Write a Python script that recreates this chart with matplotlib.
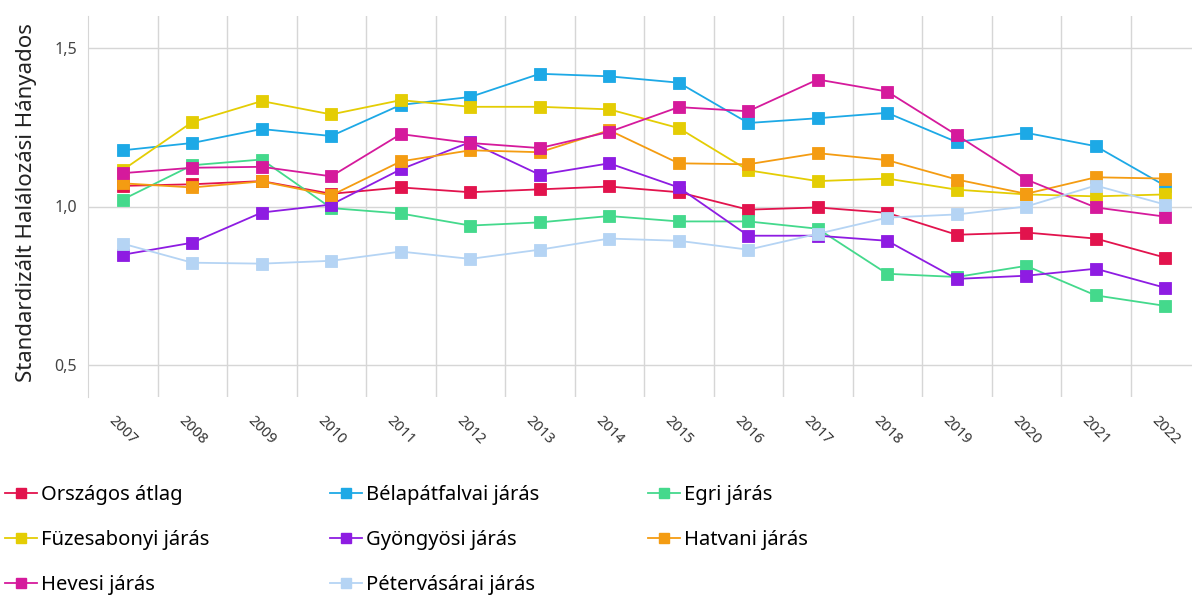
import matplotlib.pyplot as plt
from matplotlib.lines import Line2D
from matplotlib.ticker import FixedLocator, FuncFormatter

plt.rcParams['font.family'] = ['Noto Sans', 'DejaVu Sans']

years = [str(y) for y in range(2007, 2023)]

orszagos = [1.065, 1.07, 1.08, 1.04, 1.06, 1.045, 1.054, 1.063, 1.045, 0.99, 0.997, 0.98,
            0.911, 0.918, 0.899, 0.839]
belapatfalvai = [1.177, 1.20, 1.244, 1.222, 1.32, 1.345, 1.418, 1.41, 1.39, 1.263, 1.278,
                 1.295, 1.203, 1.232, 1.19, 1.065]
egri = [1.022, 1.13, 1.148, 0.995, 0.978, 0.94, 0.95, 0.97, 0.953, 0.953, 0.93, 0.788,
        0.778, 0.813, 0.72, 0.687]
fuzesabonyi = [1.115, 1.266, 1.332, 1.29, 1.335, 1.314, 1.314, 1.306, 1.247, 1.114, 1.08,
               1.088, 1.053, 1.038, 1.032, 1.038]
gyongyosi = [0.848, 0.886, 0.981, 1.006, 1.117, 1.203, 1.10, 1.136, 1.06, 0.908, 0.908,
             0.892, 0.772, 0.782, 0.804, 0.744]
hatvani = [1.073, 1.06, 1.079, 1.035, 1.142, 1.177, 1.171, 1.24, 1.136, 1.133, 1.168,
           1.146, 1.085, 1.04, 1.092, 1.088]
hevesi = [1.105, 1.122, 1.125, 1.095, 1.228, 1.20, 1.184, 1.235, 1.313, 1.30, 1.40, 1.362,
          1.225, 1.085, 0.997, 0.968]
petervasarai = [0.883, 0.823, 0.82, 0.829, 0.858, 0.835, 0.864, 0.899, 0.892, 0.864, 0.914,
                0.965, 0.975, 1.0, 1.066, 1.006]

names = ['Országos átlag', 'Bélapátfalvai járás', 'Egri járás', 'Füzesabonyi járás',
         'Gyöngyösi járás', 'Hatvani járás', 'Hevesi járás', 'Pétervásárai járás']
series = [orszagos, belapatfalvai, egri, fuzesabonyi, gyongyosi, hatvani, hevesi, petervasarai]
colors = ['#E2134D', '#1DA9E6', '#44D98C', '#E4CD04', '#8E1CE2', '#F49C12', '#D51A9C',
          '#B5D4F4']

W, H = 1192, 601
fig = plt.figure(figsize=(W / 100, H / 100), dpi=100)
ax = fig.add_axes([88 / W, 1 - 397 / H, (1200 - 88) / W, (397 - 16) / H])

x = list(range(len(years)))
for vals, name, col in zip(series, names, colors):
    ax.plot(x, vals, color=col, lw=1.3, marker='s', markersize=8.5,
            markeredgecolor=col, markeredgewidth=0.6, label=name, zorder=3)

ax.set_xlim(-0.5, len(years) - 0.5)
ax.set_ylim(0.4, 1.6)

# gridlines sit on the boundaries between years, labels in the middle
ax.xaxis.set_major_locator(FixedLocator([i + 0.5 for i in range(len(years) - 1)]))
ax.xaxis.set_major_formatter(FuncFormatter(lambda v, p: ''))
ax.set_xticks(x, minor=True)
ax.set_xticklabels(years, minor=True, rotation=-45, ha='center', va='top',
                   fontsize=10.5, color='#333333')
ax.tick_params(axis='x', which='both', length=0)
ax.tick_params(axis='x', which='minor', pad=12)
ax.grid(axis='x', which='major', color='#d6d6d6', lw=1)

ax.yaxis.set_major_locator(FixedLocator([0.5, 1.0, 1.5]))
ax.yaxis.set_major_formatter(FuncFormatter(lambda v, p: f'{v:.1f}'.replace('.', ',')))
ax.tick_params(axis='y', length=0, labelsize=11.5, labelcolor='#444444', pad=8)
ax.grid(axis='y', color='#d6d6d6', lw=1)
ax.set_axisbelow(True)

for side in ['top', 'right', 'bottom']:
    ax.spines[side].set_visible(False)
ax.spines['left'].set_color('#d6d6d6')

fig.text(27 / W, 1 - 203 / H, 'Standardizált Halálozási Hányados', rotation=90,
         ha='center', va='center', fontsize=16, color='#222222')

# legend laid out in three fixed columns, filled row by row
handles = [Line2D([], [], color=c, lw=1.3, marker='s', markersize=7) for c in colors]
col_x = [5 / W, 330 / W, 648 / W]
for c in range(3):
    idx = list(range(c, len(names), 3))
    fig.legend([handles[i] for i in idx], [names[i] for i in idx], loc='upper left',
               bbox_to_anchor=(col_x[c], 1 - 485 / H), frameon=False, fontsize=14.5,
               handlelength=1.6, handletextpad=0.2, labelspacing=1.25,
               borderaxespad=0, borderpad=0)

fig.savefig('out.png', dpi=100)
